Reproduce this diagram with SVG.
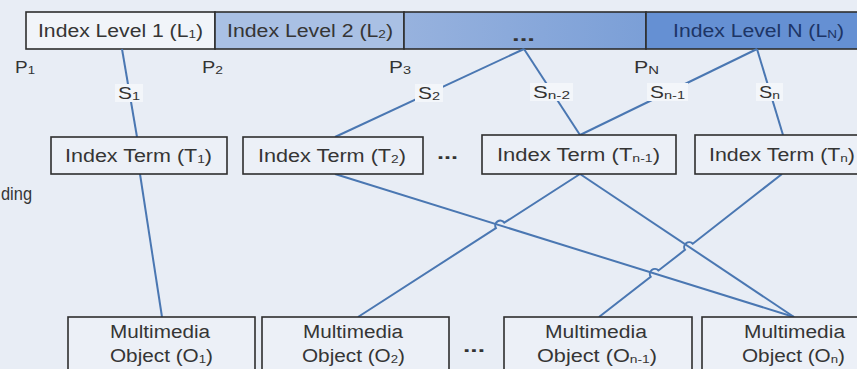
<svg xmlns="http://www.w3.org/2000/svg" width="857" height="369" viewBox="0 0 857 369">
<defs>
<style>
text{font-family:"Liberation Sans",Arial,sans-serif;fill:#353535}
.big{font-size:18px}
.lab{font-size:16.5px;fill:#333}
.sub{font-size:11.5px}
.dots{font-size:18px;font-weight:bold;fill:#333}
.box{fill:#ecf0f7;stroke:#2e2e2e;stroke-width:1.6}
.seg{stroke:#2e2e2e;stroke-width:1.6}
.conn{fill:none;stroke:#4a77b2;stroke-width:2}
.lbg{fill:#f3f6fa}
</style>
<linearGradient id="gd" x1="0" y1="0" x2="1" y2="0">
<stop offset="0" stop-color="#97b2de"/>
<stop offset="1" stop-color="#7b9fd7"/>
</linearGradient>
</defs>
<rect x="0" y="0" width="857" height="369" fill="#e8edf5"/>

<g id="levels">
<g id="L1"><rect class="seg" x="26" y="12" width="189" height="37" fill="#f1f4f9"/>
<text class="big" x="38" y="37" textLength="165" lengthAdjust="spacingAndGlyphs">Index Level 1 (L<tspan class="sub" dy="1">1</tspan><tspan dy="-1">)</tspan></text></g>
<g id="L2"><rect class="seg" x="215" y="12" width="189" height="37" fill="#a9c0e4"/>
<text class="big" x="227" y="37" textLength="166" lengthAdjust="spacingAndGlyphs">Index Level 2 (L<tspan class="sub" dy="1">2</tspan><tspan dy="-1">)</tspan></text></g>
<g id="Ldots"><rect class="seg" x="404" y="12" width="242" height="37" fill="url(#gd)"/>
<text class="dots" x="512" y="41" textLength="23" lengthAdjust="spacingAndGlyphs">...</text></g>
<g id="LN"><rect class="seg" x="646" y="12" width="230" height="37" fill="#6590d3"/>
<text class="big" x="673" y="37" textLength="171" lengthAdjust="spacingAndGlyphs" style="fill:#1d3566">Index Level N (L<tspan class="sub" dy="1">N</tspan><tspan dy="-1">)</tspan></text></g>
</g>

<g id="plabels">
<text class="lab" x="15" y="73" textLength="20" lengthAdjust="spacingAndGlyphs">P<tspan class="sub" dy="1">1</tspan></text>
<text class="lab" x="202" y="73" textLength="21" lengthAdjust="spacingAndGlyphs">P<tspan class="sub" dy="1">2</tspan></text>
<text class="lab" x="389" y="73" textLength="22" lengthAdjust="spacingAndGlyphs">P<tspan class="sub" dy="1">3</tspan></text>
<text class="lab" x="634" y="73" textLength="25" lengthAdjust="spacingAndGlyphs">P<tspan class="sub" dy="1">N</tspan></text>
</g>

<text class="big" x="1" y="200" textLength="31" lengthAdjust="spacingAndGlyphs">ding</text>

<g id="connectors">
<path class="conn" d="M122,49 L137,137"/>
<path class="conn" d="M140,174 L162,317"/>
<path class="conn" d="M524,49 L335,137"/>
<path class="conn" d="M524,49 L580,135"/>
<path class="conn" d="M757,49 L580,135"/>
<path class="conn" d="M757,49 L783,135"/>
<path class="conn" d="M335,174 L794,317"/>
<path class="conn" d="M580,174 L504.3,222.7 A5,5 0 0 0 495.9,228.1 L358,317"/>
<path class="conn" d="M580,174 L794,317"/>
<path class="conn" d="M782,174 L692.8,243.7 A5,5 0 0 0 685,249.9 L658.5,270.5 A5,5 0 0 0 650.7,276.7 L599,317"/>
</g>

<g id="slabels">
<rect class="lbg" x="115" y="84" width="28" height="18"/>
<text class="lab" x="118" y="99" textLength="22" lengthAdjust="spacingAndGlyphs">S<tspan class="sub" dy="1">1</tspan></text>
<rect class="lbg" x="415" y="84" width="28" height="18"/>
<text class="lab" x="418" y="99" textLength="22" lengthAdjust="spacingAndGlyphs">S<tspan class="sub" dy="1">2</tspan></text>
<rect class="lbg" x="530" y="83" width="43" height="18"/>
<text class="lab" x="533" y="98" textLength="37" lengthAdjust="spacingAndGlyphs">S<tspan class="sub" dy="1">n-2</tspan></text>
<rect class="lbg" x="647" y="83" width="41" height="18"/>
<text class="lab" x="650" y="98" textLength="35" lengthAdjust="spacingAndGlyphs">S<tspan class="sub" dy="1">n-1</tspan></text>
<rect class="lbg" x="756" y="83" width="27" height="18"/>
<text class="lab" x="759" y="98" textLength="21" lengthAdjust="spacingAndGlyphs">S<tspan class="sub" dy="1">n</tspan></text>
</g>

<g id="T1"><rect class="box" x="51" y="137" width="176" height="37"/>
<text class="big" x="65" y="162" textLength="147" lengthAdjust="spacingAndGlyphs">Index Term (T<tspan class="sub" dy="1">1</tspan><tspan dy="-1">)</tspan></text></g>
<g id="T2"><rect class="box" x="243" y="137" width="180" height="37"/>
<text class="big" x="258" y="162" textLength="148" lengthAdjust="spacingAndGlyphs">Index Term (T<tspan class="sub" dy="1">2</tspan><tspan dy="-1">)</tspan></text></g>
<text class="dots" x="437" y="159" textLength="21" lengthAdjust="spacingAndGlyphs">...</text>
<g id="Tn1"><rect class="box" x="482" y="135" width="194" height="39"/>
<text class="big" x="497" y="161" textLength="163" lengthAdjust="spacingAndGlyphs">Index Term (T<tspan class="sub" dy="1">n-1</tspan><tspan dy="-1">)</tspan></text></g>
<g id="Tn"><rect class="box" x="695" y="135" width="180" height="39"/>
<text class="big" x="709" y="161" textLength="146" lengthAdjust="spacingAndGlyphs">Index Term (T<tspan class="sub" dy="1">n</tspan><tspan dy="-1">)</tspan></text></g>

<g id="O1"><rect class="box" x="68" y="317" width="187" height="60"/>
<text class="big" x="110" y="338" textLength="100" lengthAdjust="spacingAndGlyphs">Multimedia</text>
<text class="big" x="110" y="362" textLength="103" lengthAdjust="spacingAndGlyphs">Object (O<tspan class="sub" dy="1">1</tspan><tspan dy="-1">)</tspan></text></g>
<g id="O2"><rect class="box" x="262" y="317" width="187" height="60"/>
<text class="big" x="303" y="338" textLength="100" lengthAdjust="spacingAndGlyphs">Multimedia</text>
<text class="big" x="302" y="362" textLength="103" lengthAdjust="spacingAndGlyphs">Object (O<tspan class="sub" dy="1">2</tspan><tspan dy="-1">)</tspan></text></g>
<text class="dots" x="463" y="352" textLength="22" lengthAdjust="spacingAndGlyphs">...</text>
<g id="On1"><rect class="box" x="504" y="317" width="188" height="60"/>
<text class="big" x="545" y="338" textLength="102" lengthAdjust="spacingAndGlyphs">Multimedia</text>
<text class="big" x="537" y="362" textLength="120" lengthAdjust="spacingAndGlyphs">Object (O<tspan class="sub" dy="1">n-1</tspan><tspan dy="-1">)</tspan></text></g>
<g id="On"><rect class="box" x="702" y="317" width="190" height="60"/>
<text class="big" x="744" y="338" textLength="101" lengthAdjust="spacingAndGlyphs">Multimedia</text>
<text class="big" x="742" y="362" textLength="103" lengthAdjust="spacingAndGlyphs">Object (O<tspan class="sub" dy="1">n</tspan><tspan dy="-1">)</tspan></text></g>
</svg>
